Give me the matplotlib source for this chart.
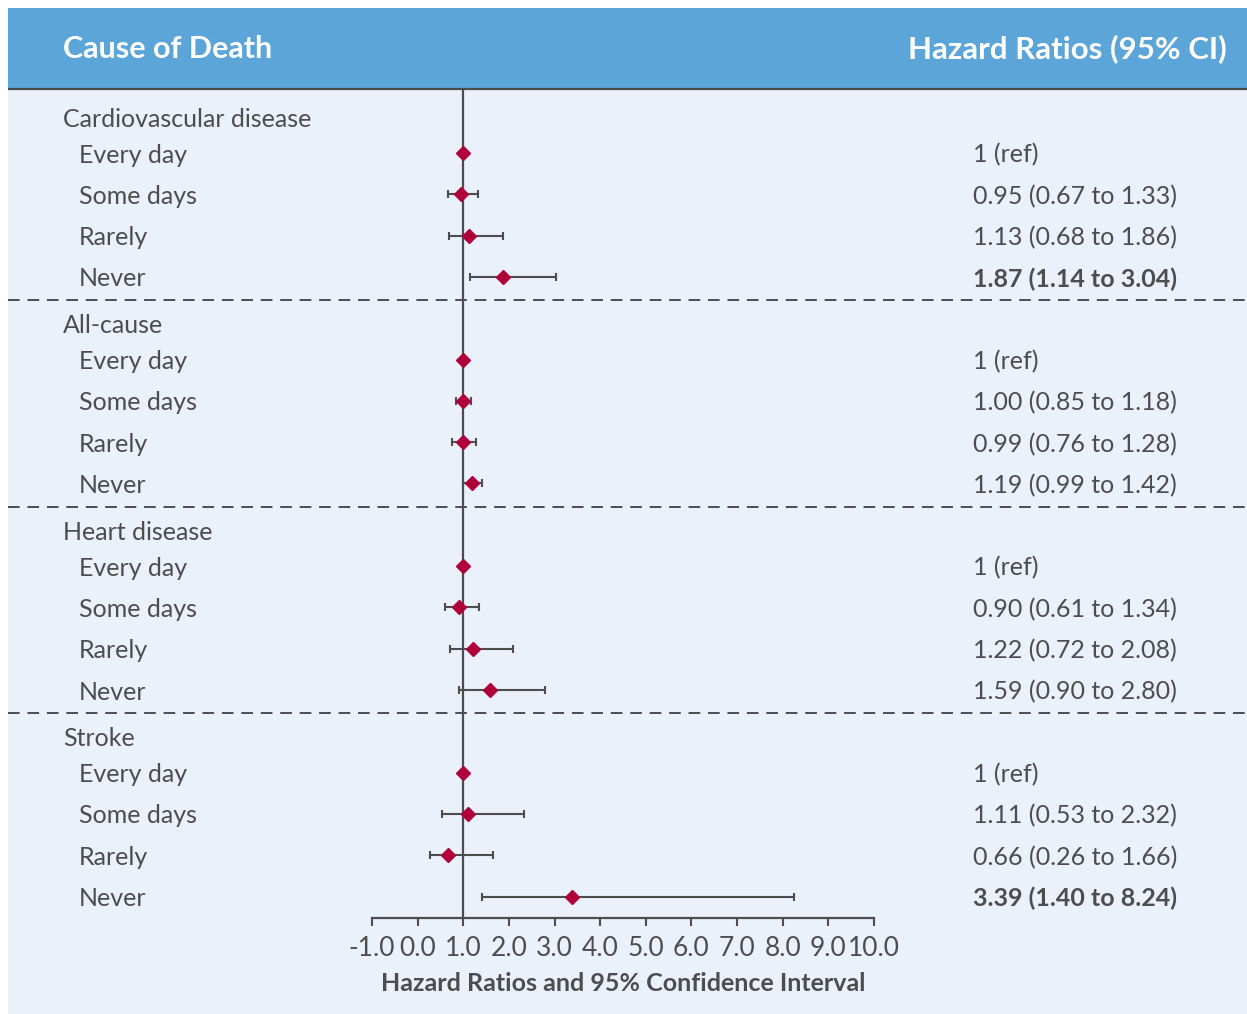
import matplotlib
matplotlib.use('Agg')
import matplotlib.pyplot as plt
from matplotlib.patches import Rectangle
from matplotlib.transforms import blended_transform_factory

# ---------------- data ----------------
groups = ["Cardiovascular disease", "All-cause", "Heart disease", "Stroke"]
levels = ["Every day", "Some days", "Rarely", "Never"]
hr_cvd = [1.00, 0.95, 1.13, 1.87]
lo_cvd = [1.00, 0.67, 0.68, 1.14]
hi_cvd = [1.00, 1.33, 1.86, 3.04]
hr_all = [1.00, 1.00, 0.99, 1.19]
lo_all = [1.00, 0.85, 0.76, 0.99]
hi_all = [1.00, 1.18, 1.28, 1.42]
hr_heart = [1.00, 0.90, 1.22, 1.59]
lo_heart = [1.00, 0.61, 0.72, 0.90]
hi_heart = [1.00, 1.34, 2.08, 2.80]
hr_stroke = [1.00, 1.11, 0.66, 3.39]
lo_stroke = [1.00, 0.53, 0.26, 1.40]
hi_stroke = [1.00, 2.32, 1.66, 8.24]
labels_cvd = ["1 (ref)", "0.95 (0.67 to 1.33)", "1.13 (0.68 to 1.86)", "1.87 (1.14 to 3.04)"]
labels_all = ["1 (ref)", "1.00 (0.85 to 1.18)", "0.99 (0.76 to 1.28)", "1.19 (0.99 to 1.42)"]
labels_heart = ["1 (ref)", "0.90 (0.61 to 1.34)", "1.22 (0.72 to 2.08)", "1.59 (0.90 to 2.80)"]
labels_stroke = ["1 (ref)", "1.11 (0.53 to 2.32)", "0.66 (0.26 to 1.66)", "3.39 (1.40 to 8.24)"]
bold_cvd = [False, False, False, True]
bold_all = [False, False, False, False]
bold_heart = [False, False, False, False]
bold_stroke = [False, False, False, True]
tick_values = [-1, 0, 1, 2, 3, 4, 5, 6, 7, 8, 9, 10]
tick_labels = ["-1.0", "0.0", "1.0", "2.0", "3.0", "4.0", "5.0", "6.0", "7.0", "8.0", "9.0", "10.0"]

hrs = [hr_cvd, hr_all, hr_heart, hr_stroke]
los = [lo_cvd, lo_all, lo_heart, lo_stroke]
his = [hi_cvd, hi_all, hi_heart, hi_stroke]
labs = [labels_cvd, labels_all, labels_heart, labels_stroke]
bolds = [bold_cvd, bold_all, bold_heart, bold_stroke]

# ---------------- style ----------------
FONT = ['Lato', 'DejaVu Sans']
plt.rcParams['font.family'] = FONT
DARK = '#4d4d4f'
RED = '#b0003a'
HEAD = '#5ba5d9'
PANEL = '#eaf1fa'
FS = 18

W, H = 1247, 1014
fig = plt.figure(figsize=(W / 100, H / 100), dpi=100)
fig.patch.set_facecolor('white')

bg = fig.add_axes([0, 0, 1, 1])
bg.set_xlim(0, W)
bg.set_ylim(H, 0)
bg.axis('off')
bg.add_patch(Rectangle((8, 8), W - 8, H - 8, facecolor=PANEL, edgecolor='none'))
bg.add_patch(Rectangle((8, 8), W - 8, 80, facecolor=HEAD, edgecolor='none'))
bg.plot([8, W], [89, 89], color=DARK, lw=1.6, solid_capstyle='butt')
bg.text(63, 49, "Cause of Death", color='white', fontsize=22, fontweight='bold',
        ha='left', va='center')
bg.text(1227, 49, "Hazard Ratios (95% CI)", color='white', fontsize=22.5, fontweight='bold',
        ha='right', va='center')

ax = fig.add_axes([372 / W, 1 - 918 / H, 502 / W, (918 - 90) / H])
ax.set_facecolor('none')
ax.set_xlim(-1, 10)
ax.set_ylim(19.52, -0.525)
for s in ['top', 'right', 'left']:
    ax.spines[s].set_visible(False)
ax.spines['bottom'].set_color(DARK)
ax.spines['bottom'].set_linewidth(1.6)
ax.set_yticks([])
ax.set_xticks(tick_values)
ax.set_xticklabels(tick_labels)
ax.tick_params(axis='x', direction='out', length=6, width=1.5, color=DARK,
               labelcolor=DARK, labelsize=19, pad=7)
ax.set_xlabel("Hazard Ratios and 95% Confidence Interval", fontsize=18,
              fontweight='bold', color=DARK, labelpad=8)
ax.axvline(1, color=DARK, lw=1.6, zorder=1)

tr_txt = blended_transform_factory(fig.transFigure, ax.transData)
DY = 0.05

for g in range(4):
    base = 5 * g
    ax.text(63 / W, base + 0.13 + DY, groups[g], transform=tr_txt, fontsize=FS,
            color=DARK, ha='left', va='center')
    for j in range(4):
        y = base + 1 + j
        x = hrs[g][j]
        lo = los[g][j]
        hi = his[g][j]
        if j > 0:
            ax.errorbar([x], [y], xerr=[[x - lo], [hi - x]], fmt='none',
                        ecolor=DARK, elinewidth=1.5, capsize=3, capthick=1.5, zorder=2)
        ax.plot([x], [y], marker='D', color=RED, ms=7, mec=RED, zorder=3)
        ax.text(79 / W, y + DY, levels[j], transform=tr_txt, fontsize=FS,
                color=DARK, ha='left', va='center')
        ax.text(973 / W, y + DY, labs[g][j], transform=tr_txt, fontsize=FS,
                color=DARK, ha='left', va='center',
                fontweight='bold' if bolds[g][j] else 'normal')
    if g < 3:
        ax.plot([8 / W, 1.0], [base + 4.56, base + 4.56], transform=tr_txt,
                color=DARK, lw=1.4, ls=(0, (6, 4)), clip_on=False)

fig.savefig('out.png', dpi=100, facecolor='white')
